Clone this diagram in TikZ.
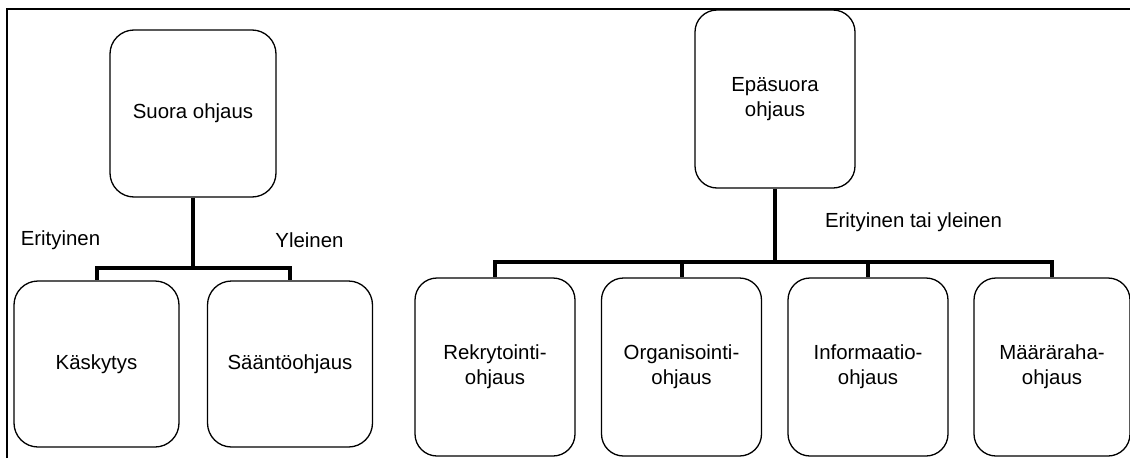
\documentclass[tikz,border=0pt]{standalone}
\usepackage{fontspec}
\setmainfont{Liberation Sans}
\begin{document}
\begin{tikzpicture}[x=1pt,y=-1pt,
  every node/.style={font=\fontsize{20.4}{25}\selectfont},
  box/.style={draw, line width=1.3pt, rounded corners=24pt, inner sep=0pt, align=center},
  topbox/.style={box, minimum width=166pt, minimum height=167pt},
  leafbox/.style={box, minimum width=165pt, minimum height=166pt},
  tallbox/.style={box, minimum width=160pt, minimum height=178pt, rounded corners=22pt},
  link/.style={line width=4pt},
  frameline/.style={line width=1.6pt}
]
\useasboundingbox (0,0) rectangle (1130,458);

% open frame: top and left edges only
\draw[frameline] (7,458) -- (7,9) -- (1130,9);

% direct steering
\node[topbox] (suora) at (193,113.5) {Suora ohjaus};
\node[leafbox] (kask) at (96.5,364) {Käskytys};
\node[leafbox] (saanto) at (290,364) {Sääntöohjaus};
\coordinate (lsplit) at (193,268);
\draw[link] (suora.south) -- (lsplit);
\draw[link] (lsplit) -| (kask.north);
\draw[link] (lsplit) -| (saanto.north);
\node (erit) at (60.5,240) {Erityinen};
\node (ylei) at (309.5,240) {Yleinen};

% indirect steering
\node[tallbox] (epas) at (775,99) {Epäsuora\\ohjaus};
\node[tallbox] (rekr) at (495,367) {Rekrytointi-\\ohjaus};
\node[tallbox] (orga) at (681.5,367) {Organisointi-\\ohjaus};
\node[tallbox] (info) at (868,367) {Informaatio-\\ohjaus};
\node[tallbox, minimum width=156pt] (maar) at (1052,367) {Määräraha-\\ohjaus};
\coordinate (rsplit) at (775,262);
\draw[link] (epas.south) -- (rsplit);
\draw[link] (rsplit) -| (rekr.north);
\draw[link] (rsplit) -| (orga.north);
\draw[link] (rsplit) -| (info.north);
\draw[link] (rsplit) -| (maar.north);
\node (eity) at (913.5,222) {Erityinen tai yleinen};
\end{tikzpicture}
\end{document}
